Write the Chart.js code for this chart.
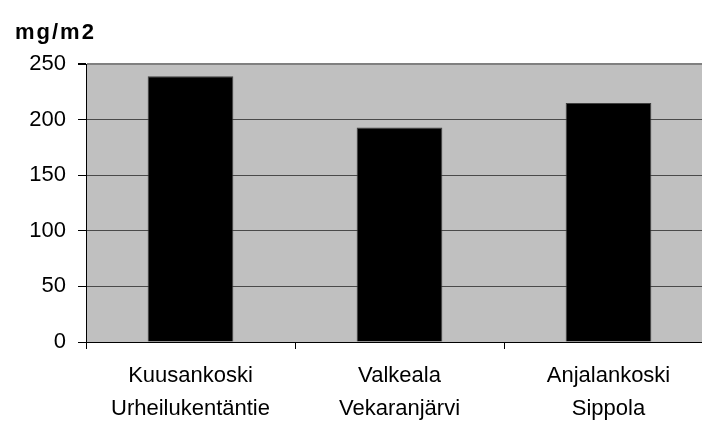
<!DOCTYPE html>
<html>
<head>
<meta charset="utf-8">
<script src="https://cdn.jsdelivr.net/npm/chart.js@4"></script>
<style>
  html, body { margin: 0; padding: 0; overflow: hidden; background: #fff; }
  canvas { display: block; }
</style>
</head>
<body>
<canvas id="canvas1" width="720" height="425"></canvas>
<script>
// deposition per site, mg/m2
const sites = [
  ["Kuusankoski", "Urheilukentäntie"],
  ["Valkeala", "Vekaranjärvi"],
  ["Anjalankoski", "Sippola"],
];
const values = [239, 193, 215];
const yTicks = [0, 50, 100, 150, 200, 250];
const unitLabel = "mg/m2";

const fontFamily = "'Liberation Sans', Arial, sans-serif";

// plot background + unit label in the top left corner
const bgPlugin = {
  id: "bg",
  beforeDraw(chart) {
    const { ctx, chartArea: a } = chart;
    ctx.save();
    ctx.fillStyle = "#c0c0c0";
    ctx.fillRect(a.left, a.top, a.right - a.left, a.bottom - a.top);
    ctx.fillStyle = "#000";
    ctx.font = "bold 22px " + fontFamily;
    ctx.letterSpacing = "2px";
    ctx.textBaseline = "middle";
    ctx.fillText(unitLabel, 15, 33);
    ctx.restore();
  },
};

const ctx1 = document.getElementById("canvas1");

new Chart(ctx1, {
  type: "bar",
  data: {
    labels: sites,
    datasets: [
      {
        data: values,
        backgroundColor: "#000000",
        borderColor: "#404040",
        borderWidth: 1,
        categoryPercentage: 1,
        barPercentage: 0.41,
      },
    ],
  },
  options: {
    responsive: false,
    animation: false,
    layout: { padding: { top: 64, left: 0, right: 7, bottom: 0 } },
    plugins: { legend: { display: false }, tooltip: { enabled: false } },
    scales: {
      y: {
        min: 0,
        max: 250,
        afterBuildTicks: (s) => { s.ticks = yTicks.map((v) => ({ value: v })); },
        afterFit: (s) => { s.width = 86; },
        ticks: {
          color: "#000",
          padding: 12,
          font: { family: fontFamily, size: 22 },
        },
        grid: {
          color: (c) => (c.tick && c.tick.value === 250 ? "#808080" : "#4a4a4a"),
          lineWidth: (c) => (c.tick && c.tick.value === 250 ? 2 : 1),
          tickColor: "#000",
          tickLength: 8,
        },
        border: { color: "#000", width: 1 },
      },
      x: {
        afterFit: (s) => { s.height = 83; },
        ticks: {
          color: "#000",
          padding: 10,
          font: { family: fontFamily, size: 22, lineHeight: 1.5 },
        },
        grid: {
          offset: true,
          drawOnChartArea: false,
          tickColor: "#000",
          tickLength: 7,
        },
        border: { color: "#000", width: 1 },
      },
    },
  },
  plugins: [bgPlugin],
});
</script>
</body>
</html>
